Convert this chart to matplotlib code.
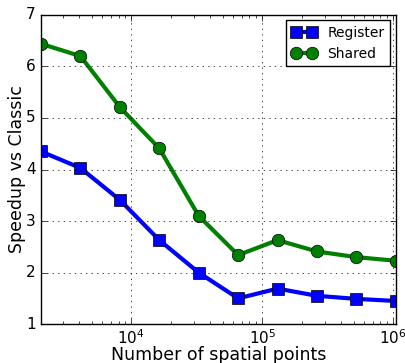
import matplotlib
matplotlib.use("Agg")
import matplotlib.pyplot as plt

# problem sizes and measured speedups
points = [2048, 4096, 8192, 16384, 32768, 65536, 131072, 262144, 524288, 1048576]
register = [4.35, 4.03, 3.41, 2.63, 2.00, 1.50, 1.69, 1.55, 1.49, 1.45]
shared = [6.44, 6.20, 5.21, 4.41, 3.10, 2.34, 2.63, 2.41, 2.30, 2.23]

plt.style.use('classic')
fig = plt.figure(figsize=(4.06, 3.63), dpi=100)
ax = fig.add_axes([0.101, 0.107, 0.874, 0.852])

ax.plot(points, register, 'b-s', lw=3, ms=8.5, label='Register')
ax.plot(points, shared, 'g-o', lw=3, ms=9, label='Shared')

ax.set_xscale('log')
ax.set_xlim(2048, 1048576)
ax.set_ylim(1, 7)
ax.grid(True)
ax.tick_params(labelsize=11)
ax.tick_params(axis='x', which='major', pad=3)
ax.set_xlabel('Number of spatial points', fontsize=12.5, labelpad=-1)
ax.set_ylabel('Speedup vs Classic', fontsize=12.5, labelpad=0)
ax.legend(loc='upper right', fontsize=10, numpoints=2,
          handlelength=1.8, borderaxespad=0.4)

fig.savefig('out.png', dpi=100)
